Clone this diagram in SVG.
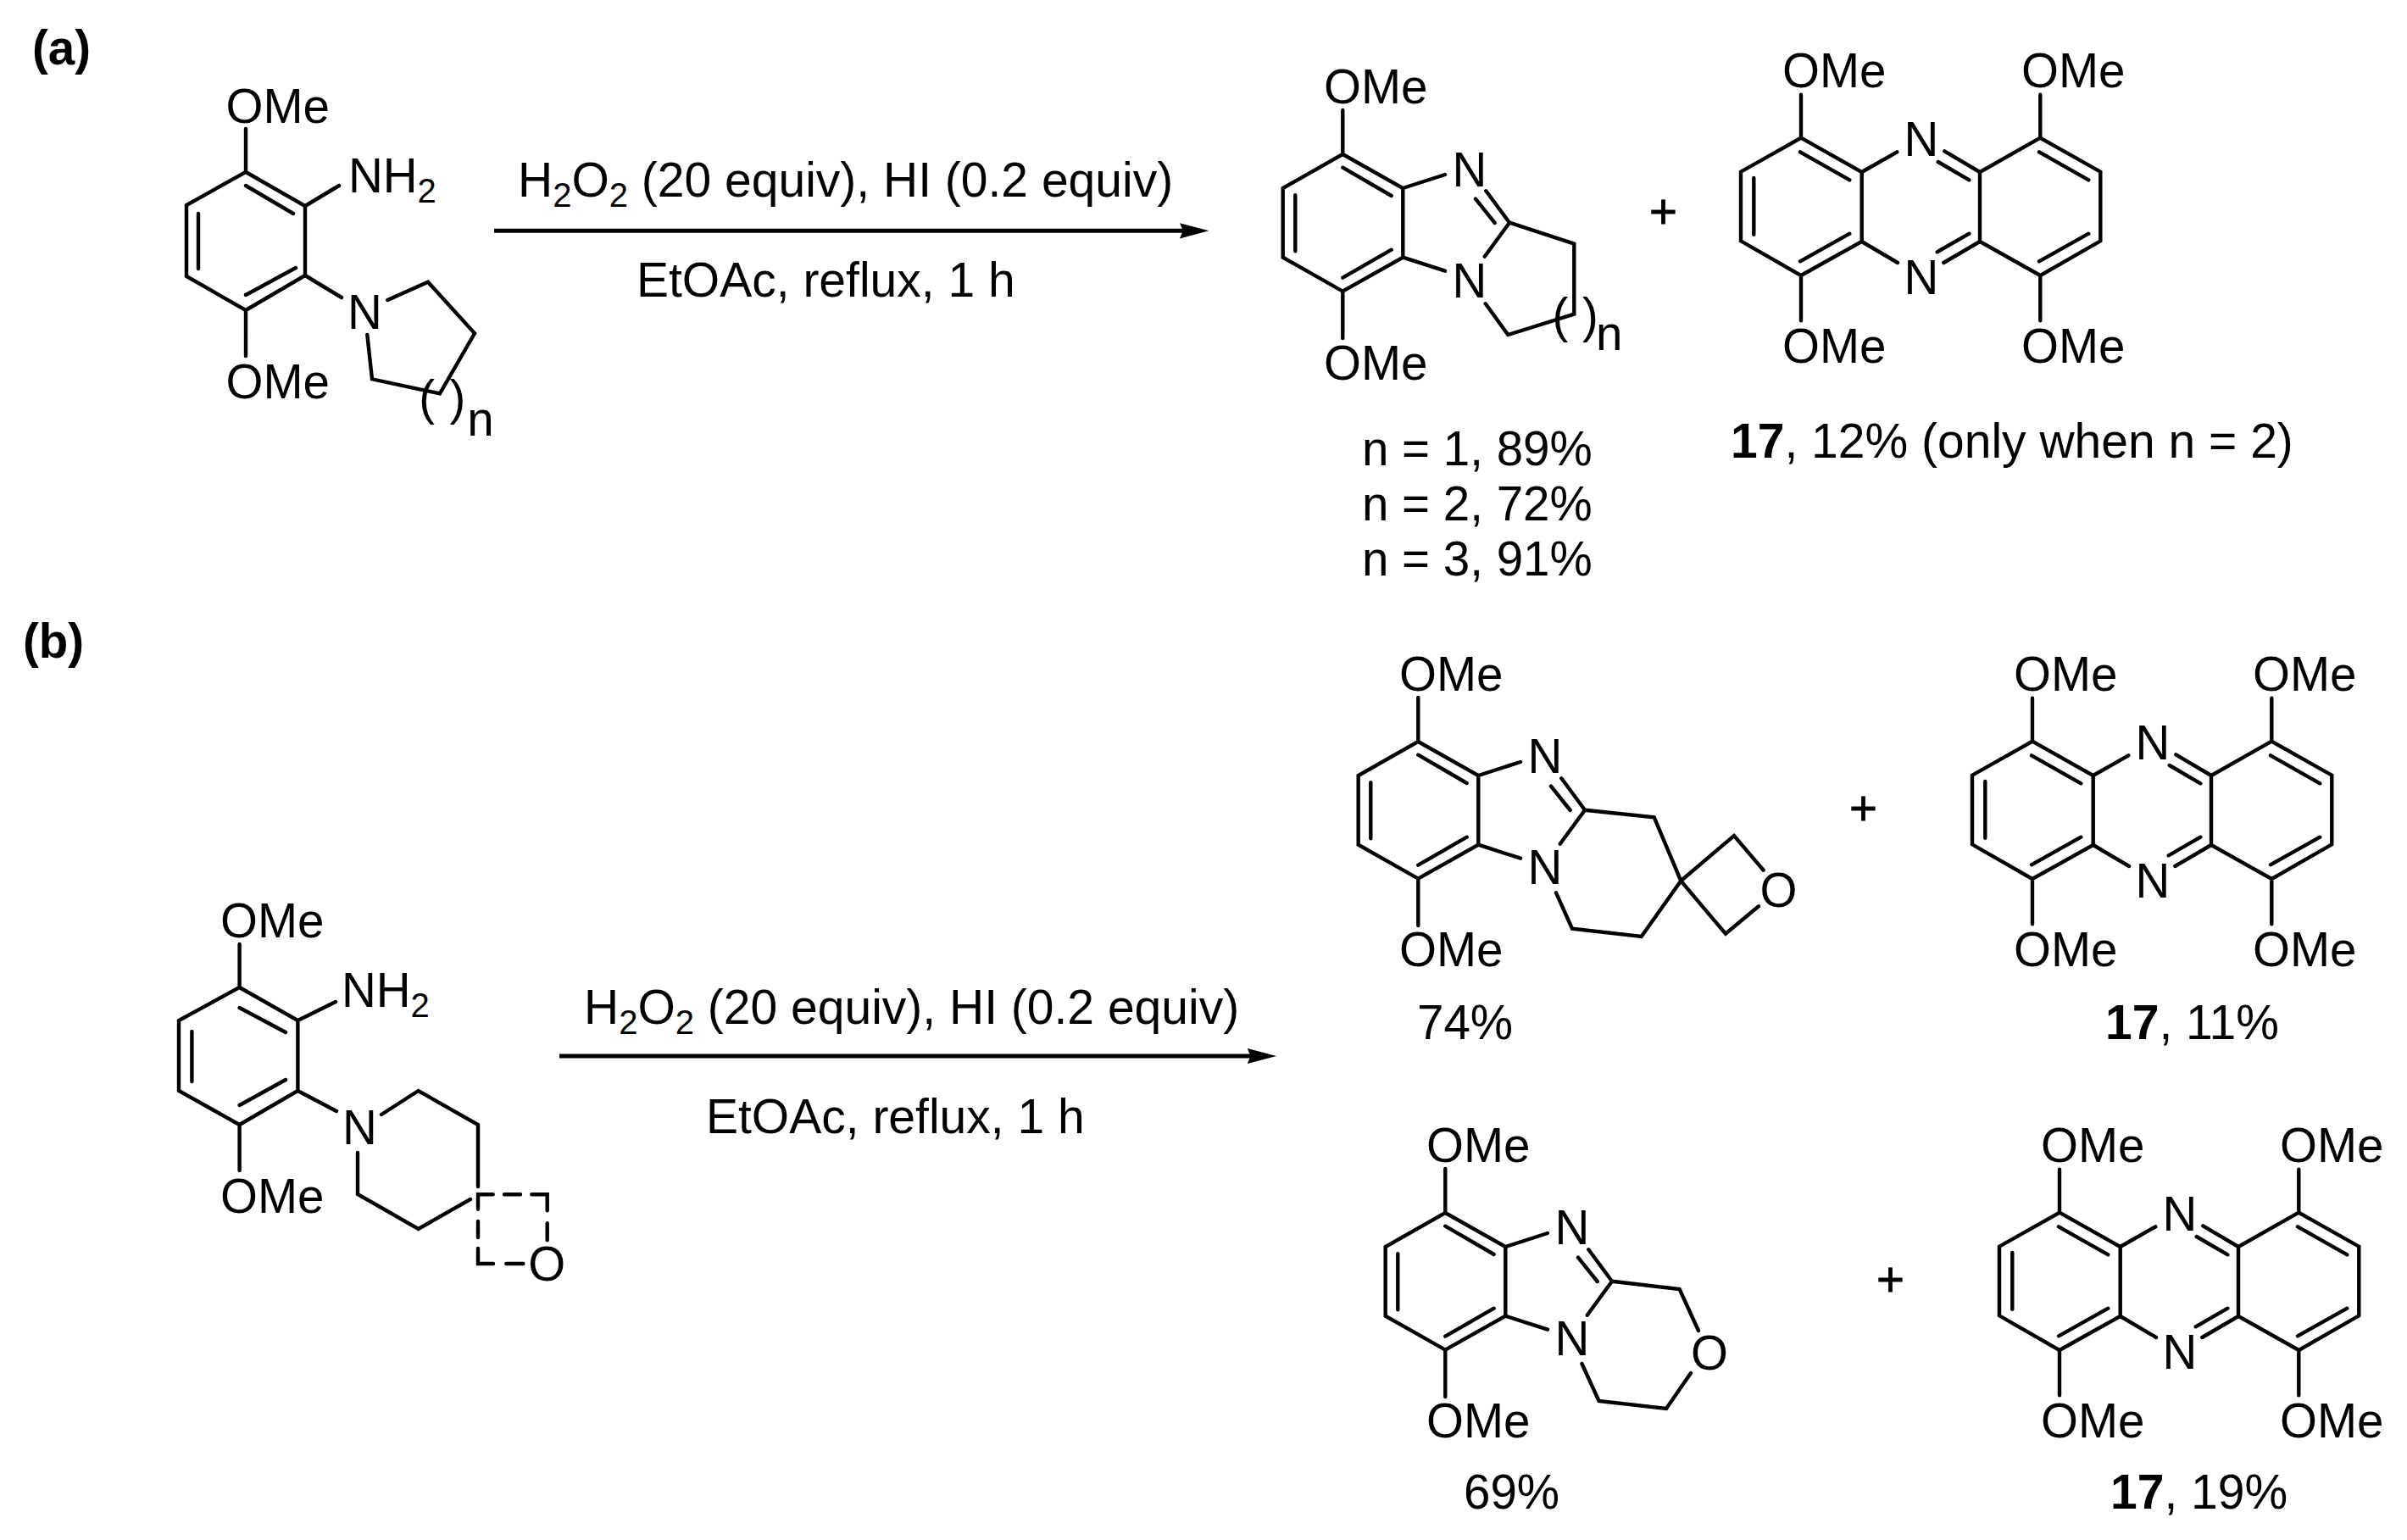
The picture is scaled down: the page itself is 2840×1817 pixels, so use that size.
<svg xmlns="http://www.w3.org/2000/svg" width="2840" height="1817" viewBox="0 0 2840 1817">
<style>
text{font-family:"Liberation Sans",Arial,sans-serif;font-size:56.500px;fill:#000}
.b{fill:none;stroke:#000;stroke-width:4.400;stroke-linejoin:miter;stroke-linecap:round}
.bold{font-weight:700}
.rx{font-size:57px}
.rx .sub,.sub{font-size:40px}
.y{font-size:57px}
.plus{stroke:#000;stroke-width:.8px}
.arrow{fill:none;stroke:#000;stroke-width:5;marker-end:url(#head)}
</style>
<defs>
<marker id="head" markerUnits="userSpaceOnUse" markerWidth="36" markerHeight="22" refX="22.400" refY="11" orient="auto" viewBox="0 0 36 22">
<path d="M0 1.800L34.400 11L0 20.200L4 11Z" fill="#000"/>
</marker>
<path id="phz" class="b" d="M2125 111.700V162.700L2054 202.700V284.300L2125 325V378.300M2125 162.700L2196.700 203V285L2125 325M2196.700 203L2238.300 179.300M2196.700 285L2239 310M2407.300 111.700V162.700L2478.300 202.700V284.300L2407.300 325V378.300M2407.300 162.700L2336 203V285L2407.300 325M2336 203L2294.300 178.300M2336 285L2293.300 310M2323.300 212.300L2286.700 191M2323.300 275.700L2285.700 297.300M2124 179.300L2182.300 212.300M2069.300 210V276.700M2124 308.300L2182.300 275.700M2406 179.300L2464.300 212.300M2406 308.300L2464.300 275.700"/>
<path id="benzo" class="b" d="M1673.300 823V875L1602.700 915V996.700L1673.300 1036.700V1092M1673.300 875L1744.300 915V996.700L1673.300 1036.700M1673.300 890.700L1730.700 924M1673.300 1020.700L1730.700 987.700M1617.300 923.300V989.300M1744.300 915L1794 899M1744.300 996.700L1794 1012.700M1842.300 918.300L1870 955.700M1830 927.700L1852.700 956M1840.700 995.700L1870 955.700"/>
</defs>
<rect width="2840" height="1817" fill="#fff"/>
<g id="labels">
<text class="bold" x="38" y="76">(a)</text>
<text class="bold" x="27" y="776">(b)</text>
</g>
<g id="connectors">
<path class="arrow" d="M583 272.300H1414.300"/>
<path class="arrow" d="M660 1246H1494"/>
</g>
<g id="conditions-a">
<text class="rx" x="611" y="232">H<tspan class="sub" dy="12">2</tspan><tspan dy="-12">O</tspan><tspan class="sub" dy="12">2</tspan><tspan dy="-12"> (20 equiv), HI (0.2 equiv)</tspan></text>
<text class="rx" x="751" y="350">EtOAc, reflux, 1 h</text>
</g>
<g id="conditions-b">
<text class="rx" x="689" y="1208">H<tspan class="sub" dy="12">2</tspan><tspan dy="-12">O</tspan><tspan class="sub" dy="12">2</tspan><tspan dy="-12"> (20 equiv), HI (0.2 equiv)</tspan></text>
<text class="rx" x="833" y="1337">EtOAc, reflux, 1 h</text>
</g>
<g id="substrate-a">
<path class="b" d="M290 152V203L220 242V326L290 366V420M290 203L360 243V325L290 366M290 219L346 252M234 252V317M290 348L349 316M360 243L400 219M360 325L403 351M457.300 354L505 332.700L560 393.300L519 464.300L439 447.300L433.300 395"/>
<text x="266.500" y="145">OMe</text>
<text x="411" y="227">NH<tspan class="sub" dy="12">2</tspan></text>
<text x="410" y="388">N</text>
<text x="266.500" y="470">OMe</text>
<text x="494.300" y="489">(</text><text x="530.400" y="489">)</text>
<text x="551.300" y="514">n</text>
</g>
<g id="product-a">
<g transform="translate(-89 -693)"><use href="#benzo"/></g>
<path class="b" d="M1781 262.700L1857.300 287.700V370.700L1779.300 395L1752.700 358.300"/>
<text x="1562" y="122">OMe</text>
<text x="1562" y="448">OMe</text>
<text x="1713.500" y="220">N</text>
<text x="1713.500" y="351">N</text>
<text x="1831.600" y="392">(</text><text x="1867" y="392">)</text>
<text x="1883" y="413">n</text>
<text x="1607" y="549">n = 1, 89%</text>
<text x="1607" y="614">n = 2, 72%</text>
<text x="1607" y="679">n = 3, 91%</text>
</g>
<text id="plus-a" class="plus" x="1946" y="269">+</text>
<g id="phenazine-a">
<use href="#phz"/>
<text x="2103" y="103">OMe</text><text x="2385" y="103">OMe</text>
<text x="2103" y="428">OMe</text><text x="2385" y="428">OMe</text>
<text x="2246.500" y="184.300">N</text><text x="2246.500" y="347">N</text>
<text class="y" x="2042" y="540"><tspan class="bold">17</tspan>, 12% (only when n = 2)</text>
</g>
<g id="substrate-b">
<path class="b" d="M282.600 1114V1165L211 1204V1287L282.600 1327V1381M282.600 1165L351.400 1204V1287L282.600 1327M282.600 1189L337 1218M226.400 1217V1276M282.600 1304L337 1274M351.400 1204L396 1182M351.400 1287L397 1311M450 1315L493.600 1287L564 1327V1400M422 1360V1409L493.600 1450L555 1415"/>
<path class="b" d="M582 1491H564V1473M597.300 1491H617.300M564 1460V1441M564 1426.700V1409.300H581.700M595 1409.300H614M627.300 1409.300H645.700V1428.300M645.700 1443.300V1463.300"/>
<text x="260" y="1106">OMe</text>
<text x="403" y="1188">NH<tspan class="sub" dy="12">2</tspan></text>
<text x="404" y="1350">N</text>
<text x="260" y="1431">OMe</text>
<text x="623.300" y="1511">O</text>
</g>
<g id="product-b1">
<use href="#benzo"/>
<path class="b" d="M1870 955.700L1951.700 964.300L1983.300 1039.300L1936.700 1105L1855 1095.700L1836 1053.300M1983.300 1039.300L2046 986L2080.700 1026.700M2075 1069.300L2036 1101.700L1983.300 1039.300"/>
<text x="1651" y="815">OMe</text>
<text x="1651" y="1140">OMe</text>
<text x="1802.500" y="912.300">N</text>
<text x="1802.500" y="1043.300">N</text>
<text x="2076.500" y="1070">O</text>
<text x="1672" y="1226">74%</text>
</g>
<text id="plus-b1" class="plus" x="2182" y="973">+</text>
<g id="phenazine-b1" transform="translate(273 712)">
<use href="#phz"/>
<text x="2103" y="103">OMe</text><text x="2385" y="103">OMe</text>
<text x="2103" y="428">OMe</text><text x="2385" y="428">OMe</text>
<text x="2246.500" y="184.300">N</text><text x="2246.500" y="347">N</text>
</g>
<text id="yield-b1" class="y" x="2484" y="1226"><tspan class="bold">17</tspan>, 11%</text>
<g id="product-b2">
<g transform="translate(32 556)"><use href="#benzo"/></g>
<path class="b" d="M1902 1511.700L1981.600 1521L2004 1570M1995 1620L1966 1662L1886.500 1653L1866.500 1609"/>
<text x="1683" y="1371">OMe</text>
<text x="1683" y="1696">OMe</text>
<text x="1834.500" y="1468.300">N</text>
<text x="1834.500" y="1599.300">N</text>
<text x="1995" y="1616">O</text>
<text x="1727" y="1780">69%</text>
</g>
<text id="plus-b2" class="plus" x="2214" y="1529">+</text>
<g id="phenazine-b2" transform="translate(305 1268)">
<use href="#phz"/>
<text x="2103" y="103">OMe</text><text x="2385" y="103">OMe</text>
<text x="2103" y="428">OMe</text><text x="2385" y="428">OMe</text>
<text x="2246.500" y="184.300">N</text><text x="2246.500" y="347">N</text>
</g>
<text id="yield-b2" class="y" x="2490" y="1780"><tspan class="bold">17</tspan>, 19%</text>
</svg>
